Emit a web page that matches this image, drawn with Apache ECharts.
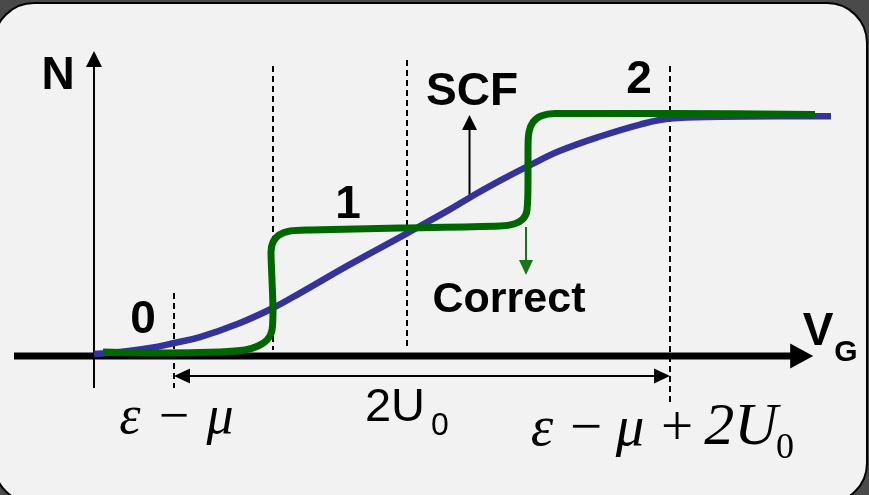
<!DOCTYPE html>
<html>
<head>
<meta charset="utf-8">
<script src="https://cdn.jsdelivr.net/npm/echarts@6/dist/echarts.min.js"></script>
<style>
  html, body { margin: 0; padding: 0; background: #4a4a4a; }
  #chart { width: 869px; height: 495px; }
</style>
</head>
<body>
<div id="chart"></div>
<script>
// Occupation N versus gate voltage V_G (arbitrary voltage units)
// Self-consistent-field result: smooth charging curve
const scfV = [0, 3.25, 7, 10, 13.25, 18.25, 22.375, 25.75, 32, 39.125, 44.5, 47, 50.75, 54.5, 58.25, 63.25, 68.25, 72, 78.25, 85.75, 92.125];
const scfN = [0, 0.017, 0.05, 0.092, 0.142, 0.26, 0.385, 0.51, 0.75, 1.01, 1.21, 1.31, 1.45, 1.58, 1.7, 1.82, 1.92, 1.97, 1.985, 1.99, 1.99];
// Correct result: Coulomb-blockade staircase
const exactV = [1.125, 8.25, 15.75, 18.875, 20.5, 21.625, 22.25, 22.375, 22.25, 22.125, 22.375, 23.125, 24.5, 27, 38.25, 50.75, 52.5, 53.625, 54.125, 54.25, 54.25, 54.375, 54.875, 55.875, 57.625, 72, 90.125];
const exactN = [0.017, 0.008, 0.017, 0.033, 0.067, 0.117, 0.201, 0.368, 0.619, 0.854, 0.937, 0.996, 1.029, 1.038, 1.054, 1.071, 1.088, 1.13, 1.205, 1.456, 1.707, 1.858, 1.941, 1.992, 2.013, 2.013, 2.004];

// Dashed guide lines: voltage and vertical extent in N
const guideV = [10, 22.375, 39.125, 72];
const guideTop = [0.51, 2.41, 2.46, 2.41];
const guideBottom = [-0.285, 0.033, 0.05, -0.427];

// Arrows: axes, the 2U0 span, and the two curve markers
const arrowFrom = [[-10, -0.017], [0, -0.285], [10, -0.184], [46.94, 1.314], [54, 1.063]];
const arrowTo = [[89.9, -0.017], [0, 2.536], [72, -0.184], [46.94, 2.0], [54, 0.661]];

// Text anchors (centre x, baseline) in (V, N)
const labelText = ['N', '0', '1', '2', 'SCF', 'Correct', 'V', 'G', '2U', '0',
  'ε', '−', 'μ', 'ε', '−', 'μ', '+', '2U', '0'];
const labelV = [-4.5, 6.125, 31.75, 68.125, 47.25, 51.875, 90.5, 94.0, 37.625, 43.25,
  4.5, 10, 15.75, 56, 61.5, 67, 72.875, 80.875, 86.375];
const labelN = [2.2008, 0.159, 1.121, 2.167, 2.067, 0.335, 0.0586, -0.067, -0.577, -0.686,
  -0.678, -0.678, -0.678, -0.778, -0.778, -0.778, -0.778, -0.778, -0.887];

// ---- styles ----
const SANS = '"Liberation Sans", Arial, sans-serif';
const SERIF = '"Liberation Serif", "Times New Roman", serif';
const labelStyle = [
  { family: SANS, size: 46, weight: 'bold' },   // N
  { family: SANS, size: 46, weight: 'bold' },   // 0
  { family: SANS, size: 46, weight: 'bold' },   // 1
  { family: SANS, size: 46, weight: 'bold' },   // 2
  { family: SANS, size: 46, weight: 'bold' },   // SCF
  { family: SANS, size: 43, weight: 'bold' },   // Correct
  { family: SANS, size: 46, weight: 'bold' },   // V
  { family: SANS, size: 30, weight: 'bold' },   // G
  { family: SANS, size: 47, weight: 'normal' }, // 2U
  { family: SANS, size: 32, weight: 'normal' }, // 0
  { family: SERIF, size: 54, weight: 'normal', italic: true },
  { family: SERIF, size: 54, weight: 'normal' },
  { family: SERIF, size: 54, weight: 'normal', italic: true },
  { family: SERIF, size: 57, weight: 'normal', italic: true },
  { family: SERIF, size: 57, weight: 'normal' },
  { family: SERIF, size: 57, weight: 'normal', italic: true },
  { family: SERIF, size: 57, weight: 'normal' },
  { family: SERIF, size: 60, weight: 'normal', italic: true },
  { family: SERIF, size: 36, weight: 'normal' }
];
const arrowStyle = [
  { color: '#000', width: 7, headLen: 23, headHalf: 12.5, start: false },
  { color: '#000', width: 2, headLen: 16, headHalf: 8, start: false },
  { color: '#000', width: 2, headLen: 16, headHalf: 7.5, start: true },
  { color: '#000', width: 2, headLen: 15, headHalf: 7.5, start: false },
  { color: '#1a751a', width: 2, headLen: 15, headHalf: 7, start: false }
];

function arrowShapes(p, q, st) {
  const dx = q[0] - p[0], dy = q[1] - p[1];
  const len = Math.hypot(dx, dy);
  const ux = dx / len, uy = dy / len, nx = -uy, ny = ux;
  const e = [q[0] - ux * st.headLen * 0.8, q[1] - uy * st.headLen * 0.8];
  const s = st.start ? [p[0] + ux * st.headLen * 0.8, p[1] + uy * st.headLen * 0.8] : p;
  const head = (tip, ex, ey) => {
    const bx = tip[0] - ex * st.headLen, by = tip[1] - ey * st.headLen;
    return {
      type: 'polygon',
      shape: { points: [tip, [bx + nx * st.headHalf, by + ny * st.headHalf], [bx - nx * st.headHalf, by - ny * st.headHalf]] },
      style: { fill: st.color }
    };
  };
  const kids = [{
    type: 'line',
    shape: { x1: s[0], y1: s[1], x2: e[0], y2: e[1] },
    style: { stroke: st.color, lineWidth: st.width }
  }, head(q, ux, uy)];
  if (st.start) kids.push(head(p, -ux, -uy));
  return kids;
}

const chart = echarts.init(document.getElementById('chart'), null, { renderer: 'canvas' });

const option = {
  animation: false,
  backgroundColor: '#4a4a4a',
  graphic: [{
    type: 'rect',
    z: -10,
    shape: { x: -6, y: 3, width: 873, height: 500, r: 40 },
    style: { fill: '#f2f2f2', stroke: '#000', lineWidth: 2 }
  }],
  grid: { left: 14, right: 15, top: 43.3, bottom: 81.25 },
  xAxis: { type: 'value', min: -10, max: 95, show: false },
  yAxis: { type: 'value', min: -0.5, max: 2.6, show: false },
  series: [
    {
      name: 'guides',
      type: 'custom',
      clip: false,
      z: 1,
      data: guideV.map((v, i) => [v, guideTop[i], v, guideBottom[i]]),
      encode: { x: [0, 2], y: [1, 3] },
      renderItem: (params, api) => {
        const a = api.coord([api.value(0), api.value(1)]);
        const b = api.coord([api.value(2), api.value(3)]);
        return {
          type: 'line',
          shape: { x1: Math.round(a[0]), y1: a[1], x2: Math.round(b[0]), y2: b[1] },
          style: { stroke: '#000', lineWidth: 2, lineDash: [6, 4] }
        };
      }
    },
    {
      name: 'arrows',
      type: 'custom',
      clip: false,
      z: 2,
      data: arrowFrom.map((p, i) => [p[0], p[1], arrowTo[i][0], arrowTo[i][1]]),
      encode: { x: [0, 2], y: [1, 3] },
      renderItem: (params, api) => {
        const a = api.coord([api.value(0), api.value(1)]);
        const b = api.coord([api.value(2), api.value(3)]);
        return { type: 'group', children: arrowShapes(a, b, arrowStyle[params.dataIndex]) };
      }
    },
    {
      name: 'SCF',
      type: 'line',
      z: 3,
      data: scfV.map((v, i) => [v, scfN[i]]),
      smooth: 0.4,
      symbol: 'none',
      lineStyle: { color: '#333399', width: 6.5, cap: 'butt', join: 'round' }
    },
    {
      name: 'Correct',
      type: 'line',
      z: 4,
      data: exactV.map((v, i) => [v, exactN[i]]),
      smooth: 0.3,
      symbol: 'none',
      lineStyle: { color: '#006600', width: 7, cap: 'butt', join: 'round' }
    },
    {
      name: 'labels',
      type: 'custom',
      clip: false,
      z: 5,
      data: labelV.map((v, i) => [v, labelN[i]]),
      encode: { x: 0, y: 1 },
      renderItem: (params, api) => {
        const i = params.dataIndex;
        const st = labelStyle[i];
        const p = api.coord([api.value(0), api.value(1)]);
        // anchor is the baseline; text is drawn from the em-box middle
        const shift = (st.family === SERIF ? 0.305 : 0.31) * st.size;
        return {
          type: 'text',
          x: p[0],
          y: p[1] - shift,
          style: {
            text: labelText[i],
            fill: '#000',
            align: 'center',
            verticalAlign: 'middle',
            font: (st.italic ? 'italic ' : '') + st.weight + ' ' + st.size + 'px ' + st.family
          }
        };
      }
    }
  ]
};

chart.setOption(option);
</script>
</body>
</html>
